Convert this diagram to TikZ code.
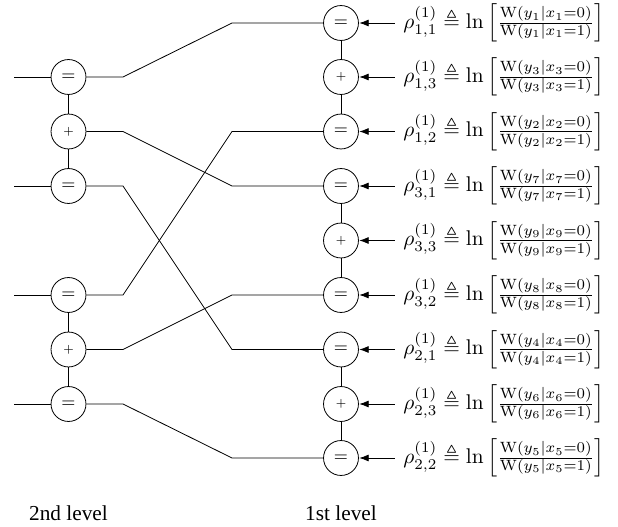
\documentclass[tikz,border=0pt]{standalone}
\usepackage{amsmath,amssymb}
\usepackage{fontspec}
\newfontfamily\lblfont{Liberation Serif}
\usetikzlibrary{arrows.meta}
\tikzset{
  x=0.4695pt,y=-0.4695pt,
  wire/.style={line width=0.38pt,black},
  eqbox/.style={circle,draw,line width=0.38pt,minimum size=16.4pt,inner sep=0pt,font=\footnotesize},
  plusbox/.style={circle,draw,line width=0.38pt,minimum size=16.4pt,inner sep=0pt,font=\tiny},
  llr/.style={anchor=west,inner sep=0pt,font=\normalsize},
  arrowin/.style={line width=0.38pt,-{Latex[length=4.4pt,width=3.3pt]},shorten >=0.2pt},
  lvl/.style={font=\lblfont,inner sep=0pt,text=black}
}
\newcommand{\llrtext}[2]{$\rho_{#1}^{(1)}\triangleq\ln\left[\frac{\mathrm{W}(y_{#2}|x_{#2}{=}0)}{\mathrm{W}(y_{#2}|x_{#2}{=}1)}\right]$}
\begin{document}
\begin{tikzpicture}
\useasboundingbox (0,0) rectangle (618,527);
% second level
\node[eqbox] (la) at (68.5,77) {$=$};
\node[plusbox] (lb) at (68.5,131.5) {$+$};
\node[eqbox] (lc) at (68.5,186) {$=$};
\node[eqbox] (ld) at (68.5,295) {$=$};
\node[plusbox] (le) at (68.5,349.5) {$+$};
\node[eqbox] (lf) at (68.5,404) {$=$};
% first level
\node[eqbox] (ra) at (341,23) {$=$};
\node[plusbox] (rb) at (341,77) {$+$};
\node[eqbox] (rc) at (341,131.5) {$=$};
\node[eqbox] (rd) at (341,186) {$=$};
\node[plusbox] (re) at (341,240.5) {$+$};
\node[eqbox] (rf) at (341,295) {$=$};
\node[eqbox] (rg) at (341,349.5) {$=$};
\node[plusbox] (rh) at (341,404) {$+$};
\node[eqbox] (ri) at (341,458) {$=$};
% LLR labels
\node[llr] (ta) at (403,23) {\llrtext{1,1}{1}};
\node[llr] (tb) at (403,77) {\llrtext{1,3}{3}};
\node[llr] (tc) at (403,131.5) {\llrtext{1,2}{2}};
\node[llr] (td) at (403,186) {\llrtext{3,1}{7}};
\node[llr] (te) at (403,240.5) {\llrtext{3,3}{9}};
\node[llr] (tf) at (403,295) {\llrtext{3,2}{8}};
\node[llr] (tg) at (403,349.5) {\llrtext{2,1}{4}};
\node[llr] (th) at (403,404) {\llrtext{2,3}{6}};
\node[llr] (ti) at (403,458) {\llrtext{2,2}{5}};
% vertical checks
\draw[wire] (la)--(lb) (lb)--(lc) (ld)--(le) (le)--(lf);
\draw[wire] (ra)--(rb) (rb)--(rc) (rd)--(re) (re)--(rf) (rg)--(rh) (rh)--(ri);
% free ends
\coordinate (ia) at (14.5,77);
\coordinate (ic) at (14.5,186);
\coordinate (id) at (14.5,295);
\coordinate (if) at (14.5,404);
\draw[wire] (ia)--(la);
\draw[wire] (ic)--(lc);
\draw[wire] (id)--(ld);
\draw[wire] (if)--(lf);
% interleaver
\draw[wire] (la.east)--(123,77)--(232,23)--(ra.west);
\draw[wire] (lb.east)--(123,131.5)--(232,186)--(rd.west);
\draw[wire] (lc.east)--(123,186)--(232,349.5)--(rg.west);
\draw[wire] (ld.east)--(123,295)--(232,131.5)--(rc.west);
\draw[wire] (le.east)--(123,349.5)--(232,295)--(rf.west);
\draw[wire] (lf.east)--(123,404)--(232,458)--(ri.west);
% arrows
\foreach \c/\y in {ra/23,rb/77,rc/131.5,rd/186,re/240.5,rf/295,rg/349.5,rh/404,ri/458}
  \draw[arrowin] (395,\y)--(\c.east);
% levels
\node[lvl] (l2) at (68.5,513) {2nd level};
\node[lvl] (l1) at (341,513) {1st level};
\end{tikzpicture}
\end{document}
